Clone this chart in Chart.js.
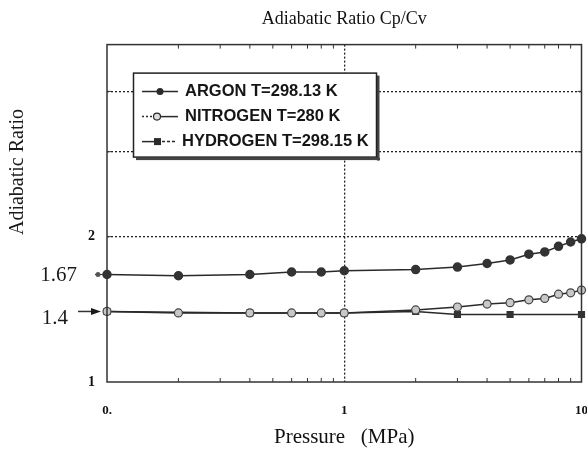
<!DOCTYPE html>
<html>
<head>
<meta charset="utf-8">
<script src="https://cdn.jsdelivr.net/npm/chart.js@4"></script>
<style>
  html, body { margin: 0; padding: 0; background: #fff; }
</style>
</head>
<body>
<canvas id="myChart" width="587" height="453"></canvas>
<script>
// values
const pressure = [0.1, 0.2, 0.4, 0.6, 0.8, 1, 2, 3, 4, 5, 6, 7, 8, 9, 10]
const argon = [1.67, 1.66, 1.67, 1.69, 1.69, 1.70, 1.71, 1.73, 1.76, 1.79, 1.84, 1.86, 1.91, 1.95, 1.98]
const nitrogen = [1.40, 1.39, 1.39, 1.39, 1.39, 1.39, 1.41, 1.43, 1.45, 1.46, 1.48, 1.49, 1.52, 1.53, 1.55]
const hydrogenP = [0.1, 0.4, 1, 2, 3, 5, 10]
const hydrogen = [1.40, 1.39, 1.39, 1.40, 1.38, 1.38, 1.38]
const seriesLabels = ['ARGON T=298.13 K', 'NITROGEN T=280 K', 'HYDROGEN T=298.15 K']
const xTicks = [0.1, 1, 10]
const xTickLabels = ['0.', '1', '10']
const yTicks = [1, 2, 3, 4, 5]
const yTickLabels = ['1', '2', '', '', '']
const markedValues = [1.67, 1.4]
const markedLabels = ['1.67', '1.4']

const ink = '#2a2a2a'
const serif = "'Liberation Serif', 'Times New Roman', serif"

function toPoints(xs, ys) {
    return xs.map((x, i) => ({x: x, y: ys[i]}))
}

// frame, minor ticks, side labels, legend box
const decorations = {
    id: 'decorations',
    afterDatasetsDraw(chart) {
        const ctx = chart.ctx
        const a = chart.chartArea
        const xs = chart.scales.x
        const ys = chart.scales.y
        ctx.save()
        ctx.strokeStyle = '#333'
        ctx.lineWidth = 1.5
        ctx.strokeRect(a.left, a.top, a.right - a.left, a.bottom - a.top)

        ctx.lineWidth = 1
        ctx.beginPath()
        ;[0.1, 1].forEach(d => {
            for (let k = 2; k <= 9; k++) {
                const px = xs.getPixelForValue(k * d)
                ctx.moveTo(px, a.top); ctx.lineTo(px, a.top + 4)
                ctx.moveTo(px, a.bottom); ctx.lineTo(px, a.bottom - 4)
            }
        })
        ;[2, 3, 4].forEach(v => {
            const py = ys.getPixelForValue(v)
            ctx.moveTo(a.left, py); ctx.lineTo(a.left + 4, py)
            ctx.moveTo(a.right, py); ctx.lineTo(a.right - 4, py)
        })
        ctx.stroke()

        // marked values on the left
        ctx.fillStyle = '#1a1a1a'
        ctx.font = '21px ' + serif
        ctx.textAlign = 'right'
        ctx.textBaseline = 'middle'
        const y167 = ys.getPixelForValue(markedValues[0])
        ctx.fillText(markedLabels[0], a.left - 30, y167 + 1)
        ctx.beginPath()
        ctx.moveTo(a.left - 12, y167); ctx.lineTo(a.left, y167)
        ctx.stroke()
        ctx.beginPath()
        ctx.arc(a.left - 9, y167, 2.5, 0, Math.PI * 2)
        ctx.fillStyle = '#555'
        ctx.fill()

        const y14 = ys.getPixelForValue(markedValues[1])
        ctx.fillStyle = '#1a1a1a'
        ctx.fillText(markedLabels[1], a.left - 39, y14 + 7)
        ctx.beginPath()
        ctx.moveTo(a.left - 29, y14); ctx.lineTo(a.left - 14, y14)
        ctx.lineWidth = 1.5
        ctx.stroke()
        ctx.beginPath()
        ctx.moveTo(a.left - 16, y14 - 3.5)
        ctx.lineTo(a.left - 6, y14)
        ctx.lineTo(a.left - 16, y14 + 3.5)
        ctx.closePath()
        ctx.fill()

        // y axis title, sits above the middle in the original
        ctx.save()
        ctx.translate(18, 172)
        ctx.rotate(-Math.PI / 2)
        ctx.textAlign = 'center'
        ctx.font = '20px ' + serif
        ctx.fillText('Adiabatic Ratio', 0, 0)
        ctx.restore()
        ctx.restore()
    },
    afterDraw(chart) {
        const ctx = chart.ctx
        const a = chart.chartArea
        const bx = a.left + 26, by = a.top + 28, bw = 244, bh = 85
        ctx.save()
        ctx.fillStyle = '#444'
        ctx.fillRect(bx + 3, by + bh, bw, 2.5)
        ctx.fillRect(bx + bw, by + 3, 2.5, bh)
        ctx.fillStyle = '#fff'
        ctx.fillRect(bx, by, bw, bh)
        ctx.strokeStyle = '#222'
        ctx.lineWidth = 1.5
        ctx.strokeRect(bx + 0.5, by + 0.5, bw - 1, bh - 1)

        ctx.font = "bold 16.5px 'Liberation Sans', Arial, sans-serif"
        ctx.textAlign = 'left'
        ctx.textBaseline = 'middle'
        seriesLabels.forEach((lab, i) => {
            const y = by + 19 + i * 25
            const x0 = bx + 9
            ctx.strokeStyle = ink
            ctx.fillStyle = ink
            ctx.lineWidth = 1.5
            if (i == 0) {
                ctx.beginPath(); ctx.moveTo(x0, y); ctx.lineTo(x0 + 36, y); ctx.stroke()
                ctx.beginPath(); ctx.arc(x0 + 18, y, 3.5, 0, Math.PI * 2); ctx.fill()
            } else if (i == 1) {
                ctx.setLineDash([2, 2])
                ctx.beginPath(); ctx.moveTo(x0, y); ctx.lineTo(x0 + 10, y); ctx.stroke()
                ctx.setLineDash([])
                ctx.beginPath(); ctx.moveTo(x0 + 19, y); ctx.lineTo(x0 + 36, y); ctx.stroke()
                ctx.beginPath(); ctx.arc(x0 + 15, y, 3.5, 0, Math.PI * 2)
                ctx.fillStyle = '#ddd'; ctx.fill(); ctx.lineWidth = 1.2; ctx.stroke()
                ctx.fillStyle = ink
            } else {
                ctx.beginPath(); ctx.moveTo(x0, y); ctx.lineTo(x0 + 12, y); ctx.stroke()
                ctx.fillRect(x0 + 12, y - 3.5, 7, 7)
                ctx.setLineDash([3, 2])
                ctx.beginPath(); ctx.moveTo(x0 + 20, y); ctx.lineTo(x0 + 34, y); ctx.stroke()
                ctx.setLineDash([])
            }
            ctx.fillStyle = '#151515'
            ctx.fillText(lab, i == 2 ? x0 + 40 : x0 + 43, y)
        })
        ctx.restore()
    }
}

const ctx = document.getElementById('myChart').getContext('2d')
const myChart = new Chart(ctx, {
    type: 'line',
    data: {
        datasets: [
            {
                label: seriesLabels[0],
                data: toPoints(pressure, argon),
                borderColor: ink,
                borderWidth: 1.5,
                pointStyle: 'circle',
                pointRadius: 4,
                pointBackgroundColor: '#333',
                pointBorderColor: '#333',
                clip: false
            },
            {
                label: seriesLabels[1],
                data: toPoints(pressure, nitrogen),
                borderColor: ink,
                borderWidth: 1.5,
                pointStyle: 'circle',
                pointRadius: 4,
                pointBackgroundColor: '#c8c8c8',
                pointBorderColor: '#444',
                pointBorderWidth: 1.2,
                clip: false
            },
            {
                label: seriesLabels[2],
                data: toPoints(hydrogenP, hydrogen),
                borderColor: ink,
                borderWidth: 1.5,
                pointStyle: 'rect',
                pointRadius: 4,
                pointBackgroundColor: '#333',
                pointBorderColor: '#333',
                clip: false
            }
        ]
    },
    options: {
        responsive: false,
        animation: false,
        layout: { padding: { left: 0, right: 4, top: 0, bottom: 0 } },
        plugins: {
            legend: { display: false },
            tooltip: { enabled: false },
            title: {
                display: true,
                text: 'Adiabatic Ratio Cp/Cv',
                fullSize: false,
                color: '#111',
                font: { family: serif, size: 18, weight: 'normal' },
                padding: { top: 8, bottom: 15 }
            }
        },
        scales: {
            x: {
                type: 'logarithmic',
                min: 0.1,
                max: 10,
                afterBuildTicks: s => { s.ticks = xTicks.map(v => ({value: v})) },
                afterFit: s => { s.height = 71; s.paddingLeft = 0; s.paddingRight = 0 },
                ticks: {
                    autoSkip: false,
                    maxRotation: 0,
                    padding: 21,
                    color: '#111',
                    font: { family: serif, size: 13, weight: 'bold' },
                    callback: v => { const i = xTicks.indexOf(v); return i < 0 ? '' : xTickLabels[i] }
                },
                grid: {
                    drawTicks: false,
                    lineWidth: 1.3,
                    color: c => (c.tick && c.tick.value === 1) ? '#222' : 'rgba(0,0,0,0)'
                },
                border: { display: false, dash: [2, 2] },
                title: {
                    display: true,
                    text: 'Pressure   (MPa)',
                    color: '#111',
                    font: { family: serif, size: 21, weight: 'normal' },
                    padding: { top: 0, bottom: 3 }
                }
            },
            y: {
                type: 'logarithmic',
                min: 1,
                max: 5,
                afterBuildTicks: s => { s.ticks = yTicks.map(v => ({value: v})) },
                afterFit: s => { s.width = 107; s.paddingTop = 0; s.paddingBottom = 0 },
                ticks: {
                    autoSkip: false,
                    padding: 12,
                    color: '#111',
                    font: { family: serif, size: 14, weight: 'bold' },
                    callback: v => { const i = yTicks.indexOf(v); return i < 0 ? '' : yTickLabels[i] }
                },
                grid: {
                    drawTicks: false,
                    lineWidth: 1.3,
                    color: c => (c.tick && [2, 3, 4].includes(c.tick.value)) ? '#222' : 'rgba(0,0,0,0)'
                },
                border: { display: false, dash: [2, 2] }
            }
        }
    },
    plugins: [decorations]
})
</script>
</body>
</html>
